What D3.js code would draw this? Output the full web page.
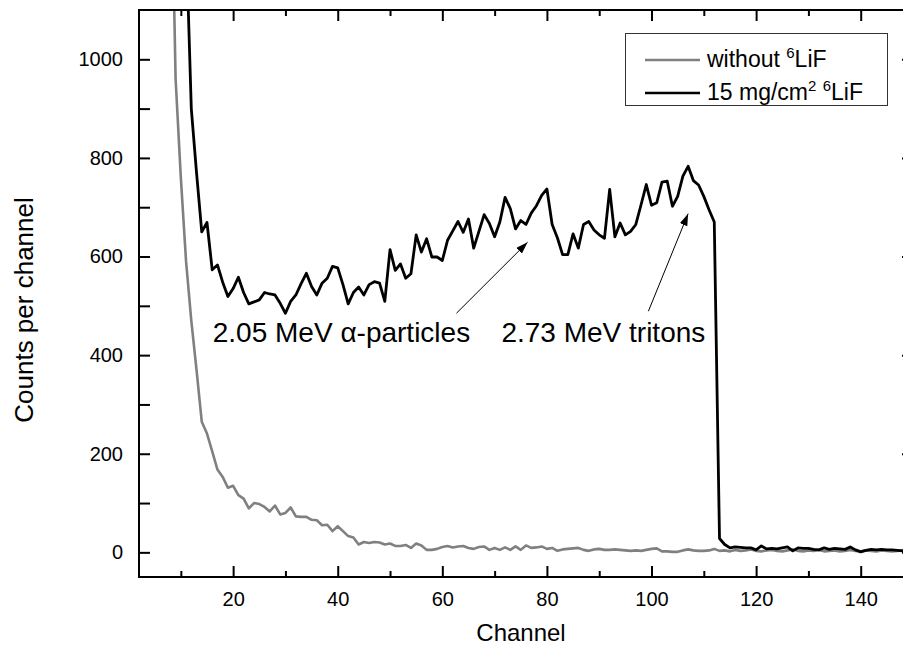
<!DOCTYPE html>
<html>
<head>
<meta charset="utf-8">
<script src="https://cdn.jsdelivr.net/npm/d3@7"></script>
<style>
body { margin: 0; background: #fff; }
svg { display: block; font-family: "Liberation Sans", Arial, sans-serif; }
</style>
</head>
<body>
<div id="chart"></div>
<script>
// spectrum with 15 mg/cm2 6LiF (channels 11..150)
var blackStart = 11;
var blackCounts = [1250, 900, 770, 650, 669, 573, 583, 548, 519, 535,
  558, 527, 504, 508, 512, 527, 524, 522, 505, 485,
  509, 522, 545, 566, 539, 522, 546, 556, 580, 577,
  543, 504, 527, 538, 522, 543, 549, 546, 509, 614,
  572, 585, 556, 565, 644, 609, 636, 599, 599, 592,
  633, 652, 671, 649, 676, 617, 651, 685, 667, 640,
  670, 720, 697, 656, 673, 665, 688, 703, 724, 737,
  665, 638, 604, 604, 646, 617, 665, 671, 654, 644,
  637, 736, 640, 668, 644, 651, 665, 705, 746, 704,
  709, 751, 753, 702, 722, 763, 783, 754, 745, 722,
  695, 670, 28, 16, 9, 11, 10, 9, 9, 5,
  13, 7, 8, 7, 9, 11, 3, 9, 8, 8,
  6, 5, 9, 6, 8, 7, 6, 11, 5, 1,
  4, 6, 5, 6, 5, 5, 4, 3, 4, 3];

// spectrum without 6LiF (channels 8..150)
var grayStart = 8;
var grayCounts = [1500, 960, 760, 590, 470, 370, 265, 241, 205, 168,
  153, 131, 135, 116, 109, 89, 100, 98, 92, 83,
  95, 77, 80, 91, 73, 72, 72, 66, 65, 55,
  56, 43, 53, 43, 33, 30, 16, 21, 19, 21,
  20, 16, 18, 13, 13, 15, 9, 18, 14, 5,
  5, 7, 11, 13, 10, 12, 13, 9, 7, 11,
  12, 5, 9, 5, 10, 5, 12, 5, 14, 9,
  10, 12, 7, 9, 3, 6, 7, 8, 9, 5,
  3, 6, 7, 5, 5, 6, 5, 4, 3, 4,
  3, 5, 7, 8, 2, 2, 1, 1, 4, 6,
  4, 3, 3, 4, 7, 3, 4, 2, 5, 3,
  4, 6, 3, 2, 4, 5, 3, 2, 4, 6,
  3, 2, 4, 3, 5, 2, 3, 4, 2, 3,
  5, 3, 2, 4, 3, 2, 4, 3, 2, 3,
  4, 3, 2];

var xMajor = [20, 40, 60, 80, 100, 120, 140];
var xMinor = [10, 30, 50, 70, 90, 110, 130, 150];
var yMajor = [0, 200, 400, 600, 800, 1000];
var yMinor = [100, 300, 500, 700, 900];

var legendLabels = ["without", "15 mg/cm"];

// annotation text position and arrow (from -> to), in channel / counts
var notes = [
  {text: ["2.05 MeV ", "\u03b1", "-particles"], x: 16.1, y: 427, x0: 62.7, y0: 485, x1: 76.3, y1: 629},
  {text: ["2.73 MeV tritons"], x: 71.3, y: 427, x0: 99.4, y0: 489, x1: 107, y1: 687}
];

function toPoints(start, arr) {
  return arr.map(function(v, i) { return {ch: start + i, v: v}; });
}

function draw() {
  var W = 903, H = 655;
  var mLeft = 139, mRight = 913, mTop = 10, mBottom = 577;

  var svg = d3.select("#chart").append("svg")
    .attr("width", W).attr("height", H);

  var x = d3.scaleLinear().domain([2, 150]).range([mLeft, mRight]);
  var y = d3.scaleLinear().domain([-50, 1100]).range([mBottom, mTop]);

  var defs = svg.append("defs");
  defs.append("clipPath").attr("id", "clip")
    .append("rect").attr("x", mLeft).attr("y", mTop)
    .attr("width", mRight - mLeft).attr("height", mBottom - mTop);

  defs.append("marker")
    .attr("id", "head").attr("viewBox", "0 0 12 8")
    .attr("refX", 12).attr("refY", 4)
    .attr("markerWidth", 12).attr("markerHeight", 8)
    .attr("markerUnits", "userSpaceOnUse")
    .attr("orient", "auto")
    .append("path").attr("d", "M0,0 L12,4 L0,8 Z").attr("fill", "#000");

  var line = d3.line().x(function(d) { return x(d.ch); }).y(function(d) { return y(d.v); });

  var plot = svg.append("g").attr("clip-path", "url(#clip)");
  plot.append("path").datum(toPoints(grayStart, grayCounts))
    .attr("fill", "none").attr("stroke", "#808080").attr("stroke-width", 2.6)
    .attr("stroke-linejoin", "round").attr("d", line);
  plot.append("path").datum(toPoints(blackStart, blackCounts))
    .attr("fill", "none").attr("stroke", "#000").attr("stroke-width", 2.8)
    .attr("stroke-linejoin", "round").attr("d", line);

  // axes, ticks pointing inward
  function styleAxis(g) {
    g.select(".domain").remove();
    g.selectAll(".tick line").attr("stroke", "#000").attr("stroke-width", 2);
    g.selectAll(".tick text").attr("fill", "#000").style("font-size", "20px")
      .style("font-family", "Liberation Sans, Arial, sans-serif");
  }

  svg.append("g").attr("transform", "translate(0," + mBottom + ")")
    .call(d3.axisBottom(x).tickValues(xMajor).tickSizeInner(-11).tickSizeOuter(0).tickPadding(15))
    .call(styleAxis);
  svg.append("g").attr("transform", "translate(0," + mBottom + ")")
    .call(d3.axisBottom(x).tickValues(xMinor).tickSizeInner(-6).tickSizeOuter(0).tickFormat(""))
    .call(styleAxis);
  svg.append("g").attr("transform", "translate(0," + mTop + ")")
    .call(d3.axisTop(x).tickValues(xMajor).tickSizeInner(-11).tickSizeOuter(0).tickFormat(""))
    .call(styleAxis);
  svg.append("g").attr("transform", "translate(0," + mTop + ")")
    .call(d3.axisTop(x).tickValues(xMinor).tickSizeInner(-6).tickSizeOuter(0).tickFormat(""))
    .call(styleAxis);

  svg.append("g").attr("transform", "translate(" + mLeft + ",0)")
    .call(d3.axisLeft(y).tickValues(yMajor).tickSizeInner(-11).tickSizeOuter(0)
      .tickPadding(16).tickFormat(d3.format("d")))
    .call(styleAxis);
  svg.append("g").attr("transform", "translate(" + mLeft + ",0)")
    .call(d3.axisLeft(y).tickValues(yMinor).tickSizeInner(-11).tickSizeOuter(0).tickFormat(""))
    .call(styleAxis);
  svg.append("g").attr("transform", "translate(" + mRight + ",0)")
    .call(d3.axisRight(y).tickValues(yMajor).tickSizeInner(-11).tickSizeOuter(0).tickFormat(""))
    .call(styleAxis);
  svg.append("g").attr("transform", "translate(" + mRight + ",0)")
    .call(d3.axisRight(y).tickValues(yMinor).tickSizeInner(-6).tickSizeOuter(0).tickFormat(""))
    .call(styleAxis);

  svg.append("rect").attr("x", mLeft).attr("y", mTop)
    .attr("width", mRight - mLeft).attr("height", mBottom - mTop)
    .attr("fill", "none").attr("stroke", "#000").attr("stroke-width", 2);

  // axis titles
  svg.append("text").attr("x", 521).attr("y", 641)
    .attr("text-anchor", "middle").style("font-size", "24px").text("Channel");
  svg.append("text")
    .attr("transform", "translate(33,310) rotate(-90)")
    .attr("text-anchor", "middle").style("font-size", "26px").text("Counts per channel");

  // annotations
  notes.forEach(function(n) {
    var t = svg.append("text").attr("x", x(n.x)).attr("y", y(n.y)).style("font-size", "28px");
    n.text.forEach(function(s) { t.append("tspan").text(s); });
    svg.append("line")
      .attr("x1", x(n.x0)).attr("y1", y(n.y0))
      .attr("x2", x(n.x1)).attr("y2", y(n.y1))
      .attr("stroke", "#000").attr("stroke-width", 1)
      .attr("marker-end", "url(#head)");
  });

  // legend
  var lg = svg.append("g");
  lg.append("rect").attr("x", 625.5).attr("y", 33.5).attr("width", 262).attr("height", 72)
    .attr("fill", "#fff").attr("stroke", "#333").attr("stroke-width", 1);
  var rows = [{color: "#808080", y: 60, label: legendLabels[0], sup2: false},
              {color: "#000", y: 93, label: legendLabels[1], sup2: true}];
  rows.forEach(function(r) {
    lg.append("line").attr("x1", 645).attr("x2", 700).attr("y1", r.y).attr("y2", r.y)
      .attr("stroke", r.color).attr("stroke-width", 2.6);
    var t = lg.append("text").attr("x", 707).attr("y", r.y + 7).style("font-size", "23px");
    t.append("tspan").text(r.label);
    if (r.sup2) {
      t.append("tspan").attr("dy", -9).style("font-size", "15px").text("2");
      t.append("tspan").attr("dy", 9).text(" ");
    } else {
      t.append("tspan").text(" ");
    }
    t.append("tspan").attr("dy", -9).style("font-size", "15px").text("6");
    t.append("tspan").attr("dy", 9).text("LiF");
  });
}

draw();
</script>
</body>
</html>
